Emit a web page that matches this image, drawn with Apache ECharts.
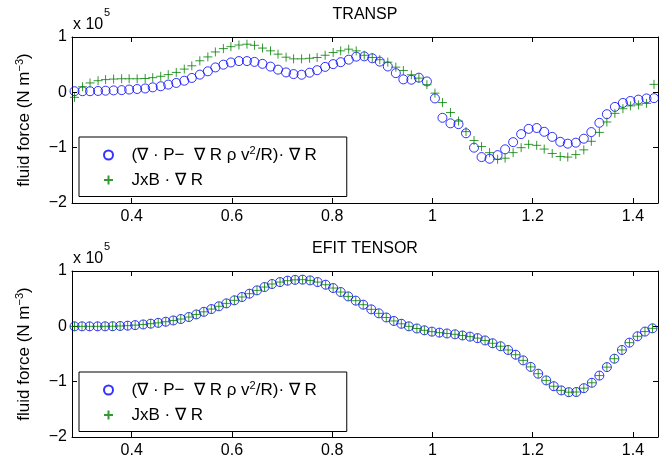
<!DOCTYPE html>
<html>
<head>
<meta charset="utf-8">
<script src="https://cdn.jsdelivr.net/npm/echarts@6/dist/echarts.min.js"></script>
<style>html,body{margin:0;padding:0;background:#fff}#c{width:667px;height:464px}</style>
</head>
<body>
<div id="c"></div>
<script>
// ---- data ----
const xTop = [0.286,0.302,0.317,0.333,0.348,0.364,0.380,0.395,0.411,0.427,
  0.442,0.458,0.473,0.489,0.505,0.520,0.536,0.552,0.567,0.583,
  0.598,0.614,0.630,0.645,0.661,0.677,0.692,0.708,0.723,0.739,
  0.755,0.770,0.786,0.802,0.817,0.833,0.848,0.864,0.880,0.895,
  0.911,0.927,0.942,0.958,0.973,0.989,1.005,1.020,1.036,1.052,
  1.067,1.083,1.098,1.114,1.130,1.145,1.161,1.177,1.192,1.208,
  1.223,1.239,1.255,1.270,1.286,1.302,1.317,1.333,1.348,1.364,
  1.380,1.395,1.411,1.427,1.442];
const transpFluid = [0.02,0.02,0.02,0.025,0.03,0.035,0.04,0.05,0.06,0.07,
  0.09,0.11,0.14,0.17,0.21,0.26,0.32,0.38,0.45,0.50,
  0.54,0.565,0.565,0.55,0.515,0.465,0.41,0.36,0.33,0.318,
  0.355,0.40,0.46,0.51,0.545,0.59,0.645,0.65,0.615,0.555,
  0.467,0.347,0.234,0.228,0.265,0.197,-0.11,-0.46,-0.56,-0.575,
  -0.74,-1.0,-1.17,-1.2,-1.135,-1.03,-0.90,-0.755,-0.66,-0.645,
  -0.713,-0.805,-0.894,-0.928,-0.91,-0.838,-0.718,-0.551,-0.395,-0.263,
  -0.192,-0.156,-0.132,-0.11,-0.105];
const transpJxB = [-0.09,0.10,0.17,0.21,0.23,0.24,0.245,0.245,0.245,0.25,
  0.265,0.29,0.32,0.36,0.42,0.48,0.57,0.64,0.73,0.79,
  0.825,0.855,0.87,0.85,0.80,0.75,0.69,0.635,0.605,0.605,
  0.615,0.63,0.67,0.72,0.75,0.78,0.75,0.67,0.63,0.59,
  0.545,0.455,0.395,0.317,0.257,0.138,-0.015,-0.185,-0.365,-0.52,
  -0.71,-0.87,-0.98,-1.09,-1.21,-1.19,-1.09,-1.0,-0.94,-0.958,
  -1.025,-1.105,-1.16,-1.17,-1.125,-1.04,-0.885,-0.724,-0.536,-0.38,
  -0.296,-0.245,-0.227,-0.2,0.144];
const xBot = [0.286,0.301,0.316,0.332,0.347,0.362,0.377,0.392,0.407,0.423,
  0.438,0.453,0.468,0.483,0.498,0.514,0.529,0.544,0.559,0.574,
  0.589,0.605,0.620,0.635,0.650,0.665,0.680,0.696,0.711,0.726,
  0.741,0.756,0.771,0.787,0.802,0.817,0.832,0.847,0.862,0.878,
  0.893,0.908,0.923,0.938,0.953,0.969,0.984,0.999,1.014,1.029,
  1.045,1.060,1.075,1.090,1.105,1.120,1.136,1.151,1.166,1.181,
  1.196,1.211,1.227,1.242,1.257,1.272,1.287,1.302,1.318,1.333,
  1.348,1.363,1.378,1.393,1.409,1.424,1.439];
const efitFluid = [0,0,0,0,0,0.002,0.006,0.012,0.022,0.034,
  0.048,0.063,0.083,0.106,0.132,0.168,0.215,0.262,0.312,0.362,
  0.415,0.47,0.53,0.59,0.65,0.71,0.765,0.80,0.825,0.84,
  0.843,0.83,0.80,0.752,0.692,0.62,0.541,0.464,0.391,0.307,
  0.235,0.16,0.097,0.046,0,-0.039,-0.072,-0.096,-0.114,-0.129,
  -0.144,-0.165,-0.186,-0.213,-0.255,-0.306,-0.36,-0.427,-0.513,-0.615,
  -0.733,-0.856,-0.977,-1.082,-1.158,-1.19,-1.187,-1.118,-1.02,-0.89,
  -0.737,-0.585,-0.427,-0.295,-0.18,-0.095,-0.036];
const efitJxB = [0,0,0,0,0,0.002,0.006,0.012,0.022,0.034,
  0.048,0.063,0.083,0.106,0.132,0.168,0.215,0.262,0.312,0.362,
  0.415,0.47,0.53,0.59,0.65,0.71,0.765,0.80,0.825,0.84,
  0.843,0.83,0.80,0.752,0.692,0.62,0.541,0.464,0.391,0.307,
  0.235,0.16,0.097,0.046,0,-0.039,-0.072,-0.096,-0.114,-0.129,
  -0.144,-0.165,-0.186,-0.213,-0.255,-0.306,-0.36,-0.427,-0.513,-0.615,
  -0.733,-0.856,-0.977,-1.082,-1.158,-1.19,-1.187,-1.118,-1.02,-0.89,
  -0.737,-0.585,-0.427,-0.295,-0.18,-0.095,-0.036];
const xTicks = [0.4,0.6,0.8,1,1.2,1.4];
const titles = ['TRANSP','EFIT TENSOR'];
const seriesLabels = ['(∇ · P−  ∇ R ρ v{2}/R)· ∇ R','JxB · ∇ R'];

// ---- styling ----
const FONT = 'Liberation Sans, Arial, Helvetica, sans-serif';
const BLUE = '#0000ff', GREEN = '#008000';
const PLUS = 'path://M0,5L10,5M5,0L5,10';

function zip(xs, ys){ return xs.map((x,i)=>[x, ys[i]]); }
function supRich(s){ return s.replace(/^(.*)\{(.+)\}(.*)$/, '{t|$1}{s|$2}{t|$3}'); }

const richAxis = {
  t:{fontSize:17, fontFamily:FONT, color:'#000', lineHeight:20},
  s:{fontSize:11, fontFamily:FONT, color:'#000', verticalAlign:'top', lineHeight:20}
};
const richLeg = {
  t:{fontSize:17, fontFamily:FONT, color:'#000', lineHeight:20},
  s:{fontSize:11, fontFamily:FONT, color:'#000', verticalAlign:'top', lineHeight:20}
};

const grids = [
  {left:72, top:37, width:586, height:166},
  {left:72, top:271, width:586, height:166}
];

const xAxes = [], yAxes = [];
[0,1].forEach(g=>{
  const base = {gridIndex:g, type:'value', min:0.281, max:1.45,
    axisLine:{show:true, onZero:false, lineStyle:{color:'#000', width:1}},
    splitLine:{show:false}};
  xAxes.push(Object.assign({}, base, {position:'bottom',
    axisTick:{show:true, inside:true, length:5, customValues:xTicks, lineStyle:{color:'#000'}},
    axisLabel:{show:true, customValues:xTicks, margin:6, color:'#000', fontSize:16, fontFamily:FONT}}));
  xAxes.push(Object.assign({}, base, {position:'top',
    axisTick:{show:true, inside:true, length:5, customValues:xTicks, lineStyle:{color:'#000'}},
    axisLabel:{show:false}}));
  const ybase = {gridIndex:g, type:'value', min:-2, max:1, interval:1,
    axisLine:{show:true, onZero:false, lineStyle:{color:'#000', width:1}},
    axisTick:{show:true, inside:true, length:5, lineStyle:{color:'#000'}},
    splitLine:{show:false}};
  yAxes.push(Object.assign({}, ybase, {position:'left',
    axisLabel:{show:true, margin:5, color:'#000', fontSize:16, fontFamily:FONT,
      formatter:v=> v<0 ? '−'+(-v) : String(v)},
    name:'{t|fluid force (N m}{s|−3}{t|)}', nameLocation:'middle', nameRotate:90, nameGap:38,
    nameTextStyle:{rich:richAxis}}));
  yAxes.push(Object.assign({}, ybase, {position:'right', axisLabel:{show:false}}));
});

const circleSeries = (name, g, data)=>({
  name, type:'scatter', xAxisIndex:2*g, yAxisIndex:2*g, data, symbol:'circle', symbolSize:9,
  itemStyle:{color:'rgba(0,0,0,0)', borderColor:BLUE, borderWidth:1}, z:2, silent:true
});
const plusSeries = (name, g, data)=>({
  name, type:'scatter', xAxisIndex:2*g, yAxisIndex:2*g, data, symbol:PLUS, symbolSize:9,
  itemStyle:{color:'rgba(0,0,0,0)', borderColor:GREEN, borderWidth:1}, z:3, silent:true
});

const nameMap = {c0:seriesLabels[0], p0:seriesLabels[1], c1:seriesLabels[0], p1:seriesLabels[1]};
const legendBase = {orient:'vertical', backgroundColor:'#fff', borderColor:'#000', borderWidth:1,
  padding:[8,30,8,24], itemGap:8, itemWidth:36, itemHeight:9, selectedMode:false,
  formatter:n=>{ const s=nameMap[n]; return s.indexOf('{')>=0 ? supRich(s) : '{t|'+s+'}'; },
  textStyle:{rich:richLeg}};

const graphics = [];
[0,1].forEach(g=>{
  const top = grids[g].top;
  graphics.push({type:'text', x:365, y:top-22, style:{text:titles[g], align:'center', verticalAlign:'middle',
    font:'16px '+FONT, fill:'#000'}});
  graphics.push({type:'text', x:73, y:top-12, style:{text:'x 10', align:'left', verticalAlign:'middle',
    font:'16px '+FONT, fill:'#000'}});
  graphics.push({type:'text', x:104, y:top-24, style:{text:'5', align:'left', verticalAlign:'middle',
    font:'11px '+FONT, fill:'#000'}});
});

const chart = echarts.init(document.getElementById('c'), null, {renderer:'canvas'});
chart.setOption({
  backgroundColor:'#fff',
  animation:false,
  grid:grids,
  xAxis:xAxes,
  yAxis:yAxes,
  legend:[
    Object.assign({}, legendBase, {left:79, top:137, data:['c0','p0']}),
    Object.assign({}, legendBase, {left:79, top:372, data:['c1','p1']})
  ],
  graphic:graphics,
  series:[
    circleSeries('c0',0,zip(xTop,transpFluid)),
    plusSeries('p0',0,zip(xTop,transpJxB)),
    circleSeries('c1',1,zip(xBot,efitFluid)),
    plusSeries('p1',1,zip(xBot,efitJxB))
  ]
});
</script>
</body>
</html>
